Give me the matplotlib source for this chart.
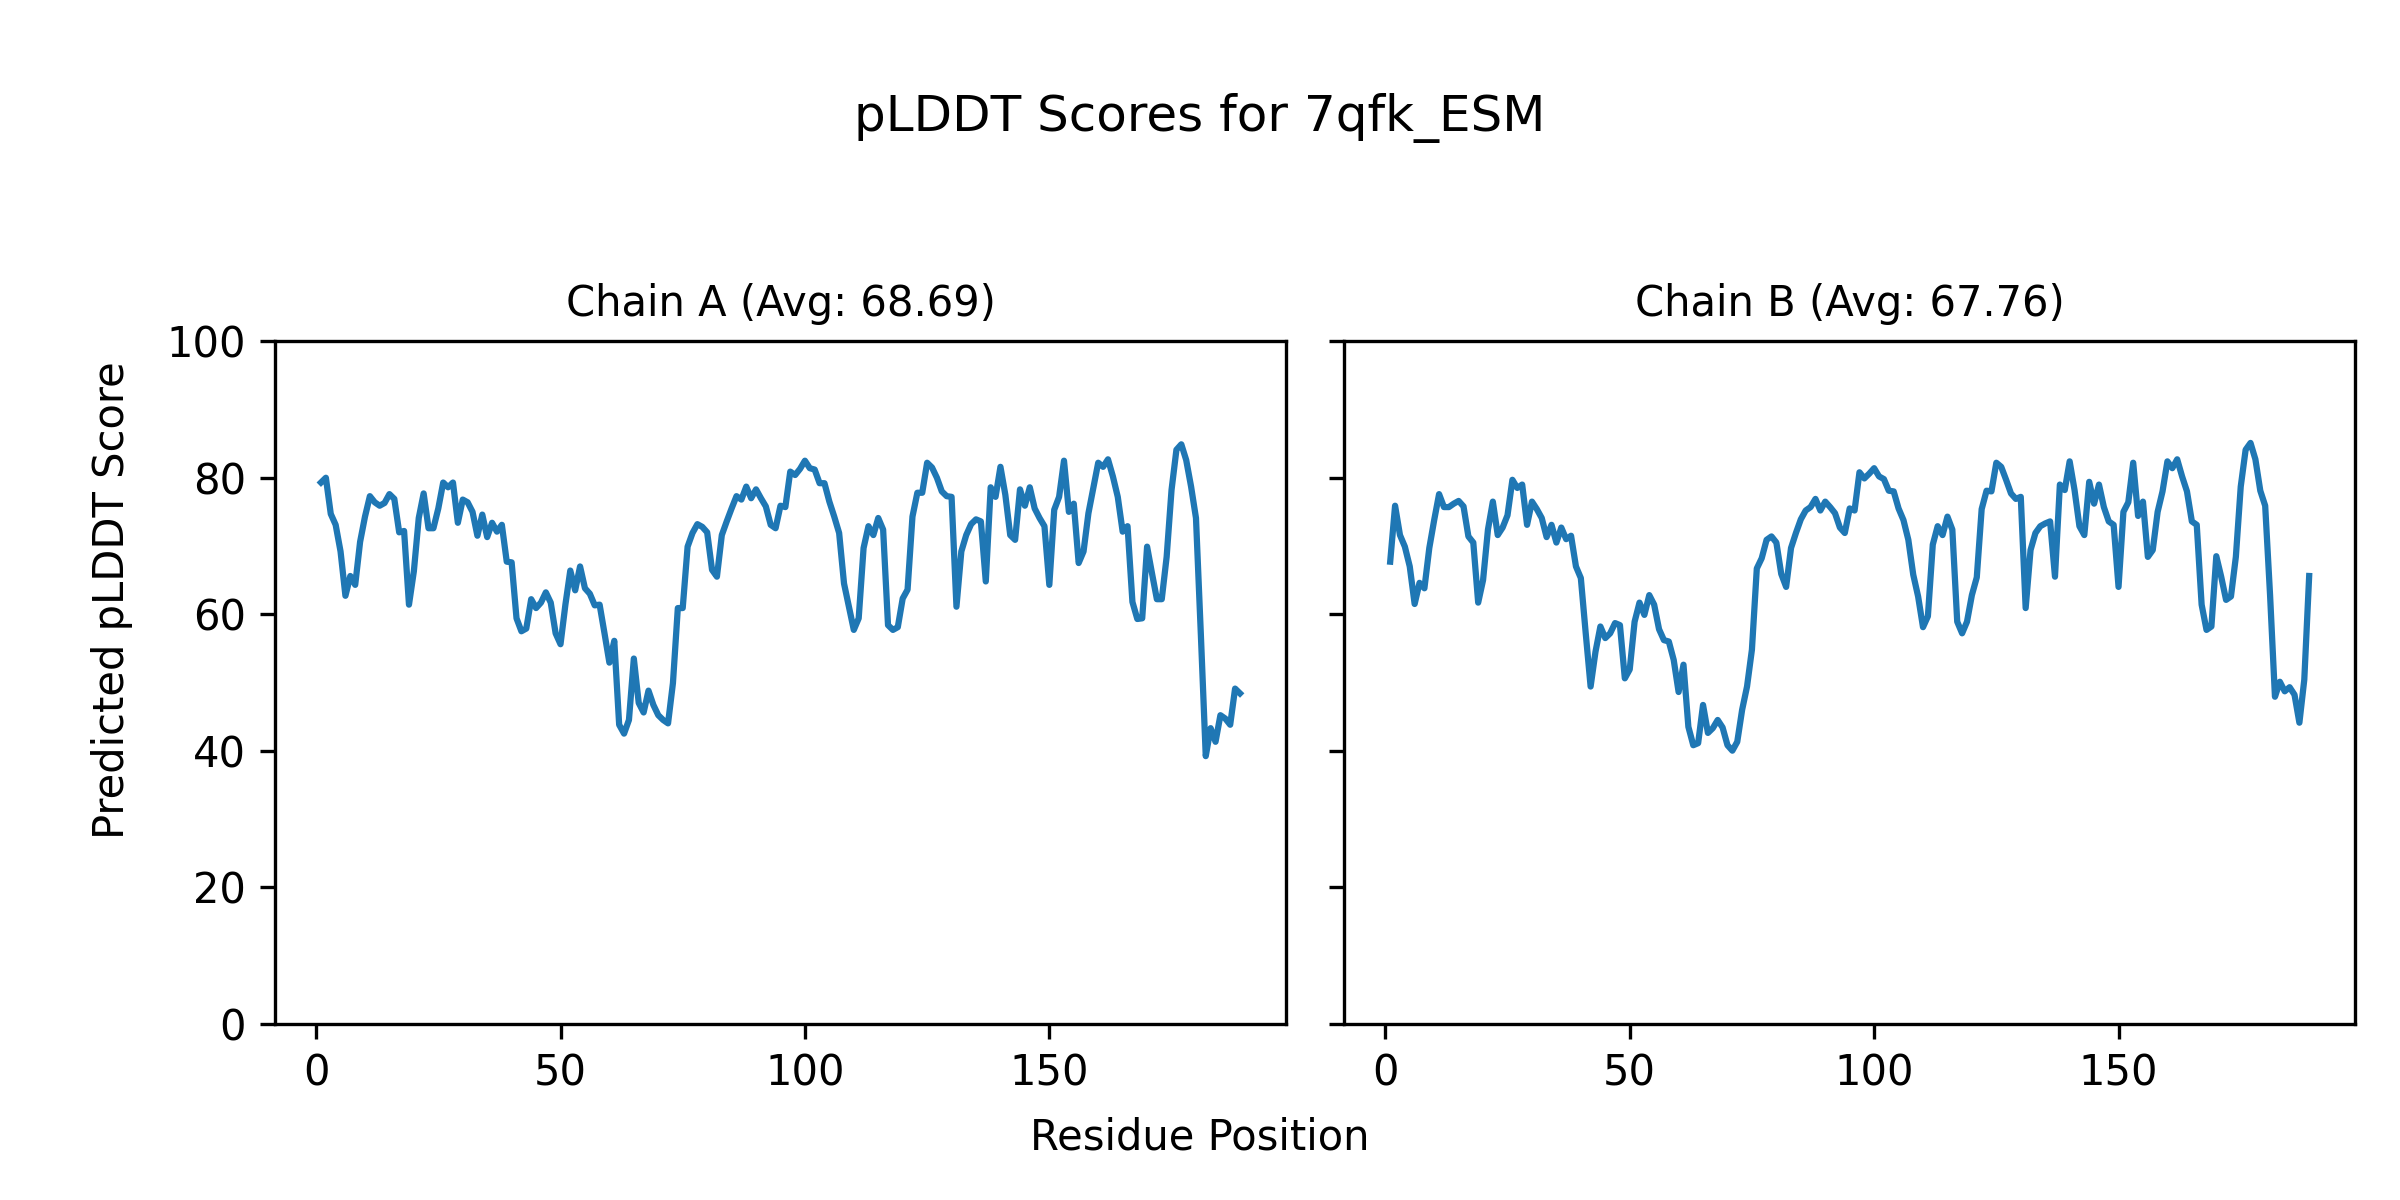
#Plots the per-residue pLDDT scores of both chains of 7qfk_ESM side by side
import matplotlib
matplotlib.use("Agg")
import matplotlib.pyplot as plt
import numpy as np

#Title texts
SUPTITLE = "pLDDT Scores for 7qfk_ESM"
CHAIN_TITLES = ["Chain A (Avg: 68.69)", "Chain B (Avg: 67.76)"]

#pLDDT score per residue (residues 1..189)
chain_a = [
    79.3, 80.0, 74.7, 73.1, 69.2, 62.7, 65.6, 64.3, 70.6, 74.3,
    77.3, 76.4, 75.9, 76.3, 77.6, 76.9, 72.0, 72.2, 61.4, 66.3,
    74.1, 77.7, 72.6, 72.6, 75.5, 79.3, 78.6, 79.3, 73.4, 76.8,
    76.4, 75.0, 71.5, 74.6, 71.3, 73.4, 72.1, 73.1, 67.7, 67.6,
    59.4, 57.5, 57.9, 62.2, 60.9, 61.7, 63.2, 61.7, 57.2, 55.6,
    61.4, 66.4, 63.5, 67.0, 63.8, 63.0, 61.3, 61.4, 57.2, 52.9,
    56.1, 43.8, 42.5, 44.5, 53.5, 47.0, 45.6, 48.8, 46.7, 45.2,
    44.5, 44.0, 49.9, 60.9, 60.9, 69.9, 71.9, 73.2, 72.8, 72.0,
    66.5, 65.5, 71.6, 73.6, 75.5, 77.3, 76.8, 78.7, 77.0, 78.3,
    77.0, 75.8, 73.1, 72.6, 75.9, 75.7, 80.9, 80.4, 81.3, 82.5,
    81.4, 81.2, 79.2, 79.2, 76.5, 74.3, 71.9, 64.5, 61.1, 57.7,
    59.4, 69.7, 72.9, 71.6, 74.1, 72.4, 58.4, 57.7, 58.1, 62.3,
    63.6, 74.3, 77.8, 77.8, 82.2, 81.5, 80.0, 78.0, 77.3, 77.2,
    61.1, 69.2, 71.6, 73.2, 73.9, 73.6, 64.8, 78.6, 77.2, 81.6,
    77.5, 71.6, 70.9, 78.3, 75.9, 78.6, 75.5, 74.1, 72.9, 64.3,
    75.3, 77.2, 82.5, 75.0, 76.2, 67.5, 69.2, 74.8, 78.5, 82.2,
    81.6, 82.7, 80.2, 77.2, 72.1, 72.9, 61.8, 59.3, 59.4, 69.9,
    66.0, 62.2, 62.2, 68.4, 78.2, 84.1, 84.9, 82.6, 78.7, 74.1,
    57.0, 39.2, 43.3, 41.3, 45.2, 44.7, 43.8, 49.1, 48.4,
]

chain_b = [
    67.7, 75.9, 71.6, 69.9, 67.0, 61.5, 64.6, 63.8, 69.7, 73.8,
    77.6, 75.7, 75.7, 76.2, 76.6, 75.8, 71.4, 70.5, 61.7, 65.0,
    72.4, 76.5, 71.6, 72.7, 74.5, 79.7, 78.5, 79.0, 73.1, 76.5,
    75.4, 74.1, 71.3, 73.1, 70.5, 72.7, 71.0, 71.5, 67.0, 65.3,
    57.2, 49.4, 54.5, 58.2, 56.5, 57.2, 58.7, 58.4, 50.6, 51.9,
    58.9, 61.7, 59.9, 62.8, 61.4, 57.8, 56.2, 56.0, 53.3, 48.6,
    52.6, 43.5, 40.8, 41.1, 46.7, 42.6, 43.3, 44.5, 43.4, 40.8,
    40.0, 41.3, 46.0, 49.4, 54.8, 66.7, 68.2, 70.9, 71.4, 70.5,
    65.9, 64.0, 69.7, 71.9, 73.9, 75.2, 75.7, 76.9, 75.2, 76.5,
    75.7, 74.8, 72.7, 71.9, 75.5, 75.2, 80.8, 79.9, 80.6, 81.4,
    80.2, 79.8, 78.1, 78.0, 75.5, 73.8, 70.9, 65.8, 62.6, 58.1,
    59.7, 70.2, 72.9, 71.6, 74.3, 72.4, 58.9, 57.2, 58.9, 62.8,
    65.4, 75.4, 78.1, 78.0, 82.2, 81.6, 79.7, 77.7, 76.9, 77.2,
    60.9, 69.4, 71.9, 72.9, 73.3, 73.6, 65.5, 79.0, 78.2, 82.4,
    78.2, 72.9, 71.6, 79.4, 76.2, 79.0, 75.7, 73.6, 73.1, 64.0,
    75.0, 76.4, 82.2, 74.4, 76.5, 68.4, 69.4, 75.0, 78.0, 82.4,
    81.4, 82.7, 80.2, 78.0, 73.6, 73.1, 61.4, 57.7, 58.2, 68.5,
    65.5, 62.1, 62.6, 68.4, 78.7, 84.1, 85.1, 82.7, 78.1, 75.9,
    62.8, 47.9, 50.1, 48.7, 49.3, 48.2, 44.1, 50.4, 65.6,
]

#Residue numbers start at 1
residues_a = np.arange(1, len(chain_a) + 1)
residues_b = np.arange(1, len(chain_b) + 1)

#Setting up the figure with two panels sharing the y axis
fig, axes = plt.subplots(1, 2, figsize=(8, 4), dpi=300, sharey=True)
fig.subplots_adjust(left=0.1146, right=0.9813, bottom=0.147, top=0.7156, wspace=0.0577)

#Plotting each chain
for ax, res, scores, title in zip(axes, [residues_a, residues_b], [chain_a, chain_b], CHAIN_TITLES):
    ax.plot(res, scores, color="tab:blue", linewidth=1.5)
    ax.set_title(title, fontsize=10)
    ax.set_ylim(0, 100)

#Shared title and axis labels, placed on the figure
fig.suptitle(SUPTITLE, fontsize=12, y=0.902, va="center")
fig.text(0.5, 0.0525, "Residue Position", ha="center", va="center", fontsize=10)
fig.text(0.0466, 0.5, "Predicted pLDDT Score", ha="center", va="center",
         rotation=90, fontsize=10)

fig.savefig("out.png", dpi=300)
